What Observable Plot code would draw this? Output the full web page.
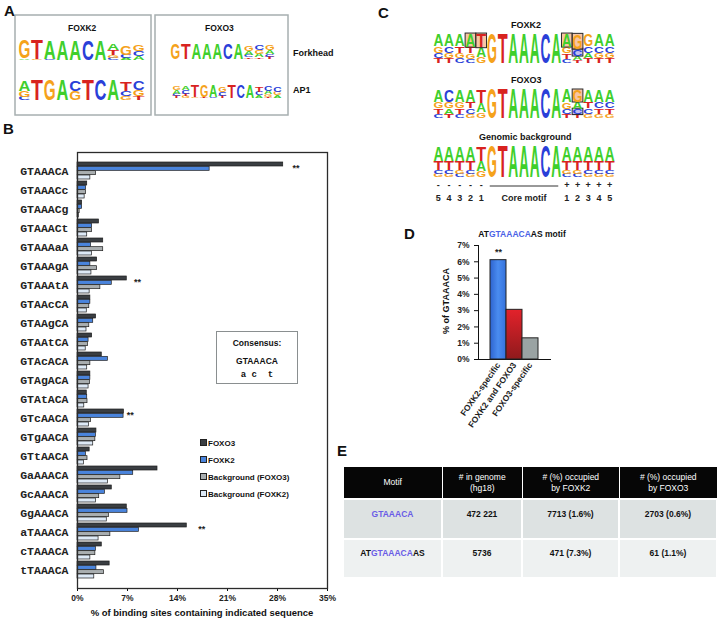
<!DOCTYPE html>
<html><head><meta charset="utf-8">
<script src="https://cdn.jsdelivr.net/npm/d3@7"></script>
<script src="https://cdn.jsdelivr.net/npm/@observablehq/plot@0.6"></script>
<style>
body{margin:0;background:#fff;}
#root{position:relative;width:720px;height:620px;overflow:hidden;font-family:"Liberation Sans",Arial,sans-serif;color:#111;background:#fff;}
.abs{position:absolute;line-height:1;white-space:nowrap;}
.pl{position:absolute;font:bold 15px "Liberation Sans",Arial,sans-serif;line-height:1;}
#plotB g[aria-label^="y-axis"] text{font:bold 11.5px "Liberation Mono","Courier New",monospace;fill:#222;}
#plotB g[aria-label^="x-axis"] text{font:bold 8.5px "Liberation Sans",Arial,sans-serif;fill:#222;}
#plotD g[aria-label^="y-axis"] text{font:bold 8.5px "Liberation Sans",Arial,sans-serif;fill:#222;}
#plotD g[aria-label^="x-axis"] text{font:bold 8.5px "Liberation Sans",Arial,sans-serif;fill:#222;}
.cell{position:absolute;display:flex;justify-content:center;text-align:center;font-size:8.5px;line-height:1.2;}
</style></head>
<body><div id="root"></div>
<script>
// ---------- Panel B data ----------
const motifs = ["GTAAACA","GTAAACc","GTAAACg","GTAAACt","GTAAAaA","GTAAAgA","GTAAAtA","GTAAcCA","GTAAgCA","GTAAtCA","GTAcACA","GTAgACA","GTAtACA","GTcAACA","GTgAACA","GTtAACA","GaAAACA","GcAAACA","GgAAACA","aTAAACA","cTAAACA","tTAAACA"];
const foxo3   = [28.8,1.36,0.65,3.0,3.6,2.75,6.9,1.8,2.6,2.05,3.4,1.8,1.3,6.5,2.65,1.7,11.2,4.8,6.9,15.3,3.4,4.5];
const foxk2   = [18.5,1.2,0.65,2.05,1.9,1.8,4.8,1.8,2.2,1.55,4.25,1.8,1.36,6.45,2.57,1.17,7.8,3.83,7.0,8.6,2.57,2.65];
const bgFoxo3 = [2.6,1.2,0.3,2.05,3.6,2.75,3.2,1.65,1.65,1.45,1.8,1.75,1.4,1.9,2.5,1.4,6.0,3.04,4.4,4.6,2.5,3.7];
const bgFoxk2 = [1.8,1.0,0.2,1.36,2.05,1.95,1.7,1.3,1.26,1.15,1.36,1.55,0.95,1.6,2.2,0.93,4.25,2.6,4.1,2.95,1.8,2.35];
const seriesNames = ["FOXO3","FOXK2","Background (FOXO3)","Background (FOXK2)"];
const seriesColors = ["#3a3e42","#4a84dc","#a9aeb0","#dde9f6"];
const xTicksB = [0,7,14,21,28,35];
const starMotifs = ["GTAAACA","GTAAAtA","GTcAACA","aTAAACA"];
const starPos = [30.1,7.9,6.9,16.9];

// ---------- Panel D data ----------
const dCats = ["FOXK2-specific","FOXK2 and FOXO3","FOXO3-specific"];
const dVals = [6.1,3.05,1.3];
const dFills = ["url(#gBlue)","url(#gRed)","#9aa3a3"];
const dTicks = [0,1,2,3,4,5,6,7];

// ---------- Panel E data ----------
const tHeader = ["Motif","# in genome<br>(hg18)","# (%) occupied<br>by FOXK2","# (%) occupied<br>by FOXO3"];
const tMotif = ['<span style="color:#6a5ce6">GTAAACA</span>','AT<span style="color:#6a5ce6">GTAAACA</span>AS'];
const tGenome = ["472 221","5736"];
const tFoxk2 = ["7713 (1.6%)","471 (7.3%)"];
const tFoxo3 = ["2703 (0.6%)","61 (1.1%)"];

// ---------- Logo data (columns top→bottom, letter + % height, * = boxed) ----------
const logoA_k2_fh = ["G88A8","T92G5","A88C6","A95","A95","C95","A95","A32T24G14C10","G42C16A10","G30C26A18"];
const logoA_k2_ap = ["A48G26C14","T95","G95","A95","C45G38","T95","C95","A95","T40C24G16","C40G26T16"];
const logoA_o3_fh = ["G92","T95","A95","A95","A95","C95","A95","G34A24C16T10","C30G24A20T10","G30A24C18T12"];
const logoA_o3_ap = ["G24A20C16T12","A24C20T16G12","T78G8","G78T8","A78C8","G32C24T14","T85","C85","A85","T32C24A16","C32A22G16T8","C32G22A16"];
const logoC_k2 = ["A40G22C18T15","A40C22G18T15","A40T22G18C15","*A42T22G18C13","*T44A32G19","G100","T100","A100","A100","A100","C100","A100","*A42G22T18C13","*G48*C22A14T10","G40C22A18T15","A40C22G18T15","A40C22G18T15"];
const logoC_o3 = ["A40G22T18C15","C40G22A18T15","A40G22T18C15","A40T22C18G15","T44A32G19","G100","T100","A100","A100","A100","C100","A100","A42G22C18T13","*G40A24*C18T13","A40T22C18G15","A40C22T18G15","A40C22T18G15"];
const logoC_bg = ["A44T28C13G10","A44T28C13G10","A44T28G13C10","A44T28C13G10","T44A32G19","G100","T100","A100","A100","A100","C100","A100","A44T28G13C10","A44T28G13C10","A44T28C13G10","A44T28C13G10","A44T28C13G10"];
const posSigns = ["-","-","-","-","-","","","","","","","","+","+","+","+","+"];
const posNums  = ["5","4","3","2","1","","","","","","","","1","2","3","4","5"];
const letterColors = {A:"#3fcf2c", C:"#2a3fd8", G:"#f5a21b", T:"#d8231f"};

const root = document.getElementById("root");
function addDiv(html, left, top, style){ const d=document.createElement("div"); d.className="abs"; d.style.left=left+"px"; d.style.top=top+"px"; if(style) d.style.cssText+=style; d.innerHTML=html; root.appendChild(d); return d; }
function addLabel(t,left,top){ const d=document.createElement("div"); d.className="pl"; d.style.left=left+"px"; d.style.top=top+"px"; d.textContent=t; root.appendChild(d); }

// ---------- Overlay SVG for logos ----------
const ov = d3.select(root).append("svg").attr("width",720).attr("height",620).style("position","absolute").style("left","0").style("top","0");
ov.append("rect").attr("x",15).attr("y",15).attr("width",136).attr("height",100).attr("fill","none").attr("stroke","#a7afb0").attr("stroke-width",1.5);
ov.append("rect").attr("x",155).attr("y",15).attr("width",133).attr("height",100).attr("fill","none").attr("stroke","#a7afb0").attr("stroke-width",1.5);

function parseCol(s){ const out=[]; s.replace(/(\*?)([ACGT])(\d+)/g,(m,b,L,n)=>{out.push({L,f:+n/100,box:!!b});}); return out; }
function drawLogo(x0,y0,w,h,cols,boxFill){
  const cw=w/cols.length;
  const g=ov.append("g");
  cols.forEach((s,i)=>{
    const col=parseCol(s);
    let y=y0+h;
    for(const c of col.slice().reverse()){
      const lh=c.f*h;
      if(c.box){
        g.append("rect").attr("x",x0+i*cw).attr("y",y-lh-0.5).attr("width",cw).attr("height",lh+1)
          .attr("fill", c.L==="C" ? "rgba(120,110,220,0.45)" : boxFill).attr("stroke","#2a2a2a").attr("stroke-width",1);
      }
      g.append("text").attr("x",x0+i*cw+0.4).attr("y",y).attr("font-size",lh/0.72)
        .attr("font-family","Liberation Sans, Arial, sans-serif").attr("font-weight","bold")
        .attr("textLength",Math.max(cw-0.8,0.5)).attr("lengthAdjust","spacingAndGlyphs")
        .attr("fill",letterColors[c.L]).text(c.L);
      y-=lh;
    }
  });
}
const boxFill="rgba(240,150,90,0.55)";
drawLogo(18,39,127,21,logoA_k2_fh,boxFill);
drawLogo(18,77,127,23,logoA_k2_ap,boxFill);
drawLogo(170,42,105,17,logoA_o3_fh,boxFill);
drawLogo(172,82,110,16,logoA_o3_ap,boxFill);
drawLogo(433,32,182,31,logoC_k2,boxFill);
drawLogo(433,88,182,30,logoC_o3,boxFill);
drawLogo(433,145,182,32,logoC_bg,boxFill);
// position labels under logos
const cwC=182/17;
posSigns.forEach((s,i)=>{ if(s) ov.append("text").attr("x",433+(i+0.5)*cwC).attr("y",188).attr("text-anchor","middle").attr("font-size",9).attr("font-weight","bold").attr("font-family","Liberation Sans, Arial").attr("fill","#222").text(s); });
posNums.forEach((s,i)=>{ if(s) ov.append("text").attr("x",433+(i+0.5)*cwC).attr("y",201).attr("text-anchor","middle").attr("font-size",9).attr("font-weight","bold").attr("font-family","Liberation Sans, Arial").attr("fill","#222").text(s); });
ov.append("line").attr("x1",433+5.3*cwC).attr("x2",433+11.7*cwC).attr("y1",186).attr("y2",186).attr("stroke","#333").attr("stroke-width",1);
ov.append("text").attr("x",433+8.5*cwC).attr("y",201).attr("text-anchor","middle").attr("font-size",9).attr("font-weight","bold").attr("font-family","Liberation Sans, Arial").attr("fill","#222").text("Core motif");

// ---------- Panel labels & texts ----------
addLabel("A",4,3); addLabel("B",3,121); addLabel("C",378,5); addLabel("D",404,226); addLabel("E",337,443);
addDiv("FOXK2",68,23,"font:bold 8.5px 'Liberation Sans',Arial;");
addDiv("FOXO3",205,23,"font:bold 8.5px 'Liberation Sans',Arial;");
addDiv("Forkhead",293,48,"font:bold 9px 'Liberation Sans',Arial;");
addDiv("AP1",293,85,"font:bold 9px 'Liberation Sans',Arial;");
addDiv("FOXK2",511,20,"font:bold 9px 'Liberation Sans',Arial;");
addDiv("FOXO3",511,75,"font:bold 9px 'Liberation Sans',Arial;");
addDiv("Genomic background",479,132,"font:bold 9px 'Liberation Sans',Arial;");

// ---------- Panel B (Plot) ----------
const rows = motifs.flatMap((m,i)=>[foxo3,foxk2,bgFoxo3,bgFoxk2].map((arr,j)=>({motif:m, series:seriesNames[j], j, v:arr[i]})));
const HB=480, mTB=12, mBB=32, pad=0.12;
const stepB=(HB-mTB-mBB)/(motifs.length - pad + 2*pad);
const bwB=stepB*(1-pad), bhB=bwB/4;
const plotB = Plot.plot({
  width:340, height:HB, marginTop:mTB, marginBottom:mBB, marginLeft:77, marginRight:13,
  style:{background:"transparent", fontFamily:"Liberation Sans, Arial, sans-serif", overflow:"visible"},
  x:{domain:[0,35], ticks:xTicksB, tickFormat:d=>d+"%", tickSize:3, tickPadding:3, label:null},
  y:{domain:motifs, padding:pad, tickSize:0, tickPadding:9, label:null},
  marks:[
    ...seriesNames.map((s,j)=>Plot.barX(rows.filter(r=>r.j===j),{x:"v", y:"motif", fill:seriesColors[j], stroke:"#1e1e1e", strokeWidth:0.7, insetTop:j*bhB, insetBottom:(3-j)*bhB})),
    Plot.frame({stroke:"#2b2b2b", strokeWidth:1.3}),
    Plot.text(starMotifs.map((m,i)=>({m, x:starPos[i]})),{x:"x", y:"motif" in {} ? "m" : "m", text:()=>"**", textAnchor:"start", dy:-3, fontSize:9, fontWeight:"bold", fill:"#222"})
  ]
});
const divB=document.createElement("div"); divB.id="plotB"; divB.style.cssText="position:absolute;left:0;top:140px;"; divB.appendChild(plotB); root.appendChild(divB);
addDiv("% of binding sites containing indicated sequence",0,607,"width:404px;text-align:center;font:bold 9.5px 'Liberation Sans',Arial;");
// legend
seriesNames.forEach((s,j)=>{
  addDiv('<span style="display:inline-block;width:5px;height:5px;border:1px solid #222;background:'+seriesColors[j]+';margin-right:1px;vertical-align:0px"></span>'+s, 200, 439+j*17, "font:bold 8px 'Liberation Sans',Arial;");
});
// consensus box
addDiv('<div style="font:bold 8.5px \'Liberation Sans\',Arial;margin-top:6px">Consensus:</div><div style="font:bold 8.5px \'Liberation Sans\',Arial;margin-top:8px">GTAAACA</div><div style="font:bold 9px \'Liberation Mono\',monospace;margin-top:4px;letter-spacing:0px">a&nbsp;c&nbsp;&nbsp;t</div>',216,331,"width:82px;height:53px;border:1px solid #8a8f90;text-align:center;box-sizing:border-box;");

// ---------- Panel D (Plot) ----------
const plotD = Plot.plot({
  width:150, height:220, marginTop:20, marginBottom:86, marginLeft:58, marginRight:20,
  style:{background:"transparent", fontFamily:"Liberation Sans, Arial, sans-serif", overflow:"visible"},
  x:{domain:dCats, paddingInner:0, paddingOuter:0.75, tickRotate:-55, tickSize:0, tickPadding:4, label:null, line:true},
  y:{domain:[0,7], ticks:dTicks, tickFormat:d=>d+"%", tickSize:4, label:null, line:true},
  marks:[
    ...dCats.map((c,i)=>Plot.barY([{c, v:dVals[i]}],{x:"c", y:"v", fill:dFills[i], stroke:"#222", strokeWidth:1})),
    Plot.text([{c:dCats[0], v:dVals[0]}],{x:"c", y:"v", text:()=>"**", dy:-8, fontSize:9, fontWeight:"bold", fill:"#222"})
  ]
});
const defs=d3.select(plotD).insert("defs",":first-child");
const gb=defs.append("linearGradient").attr("id","gBlue").attr("x1",0).attr("x2",1).attr("y1",0).attr("y2",0);
gb.append("stop").attr("offset","0%").attr("stop-color","#2d63cf");
gb.append("stop").attr("offset","50%").attr("stop-color","#4a8cf0");
gb.append("stop").attr("offset","100%").attr("stop-color","#3572dc");
const gr=defs.append("linearGradient").attr("id","gRed").attr("x1",0).attr("x2",0).attr("y1",0).attr("y2",1);
gr.append("stop").attr("offset","0%").attr("stop-color","#e3222b");
gr.append("stop").attr("offset","100%").attr("stop-color","#8f1a1c");
const divD=document.createElement("div"); divD.id="plotD"; divD.style.cssText="position:absolute;left:420px;top:225px;"; divD.appendChild(plotD); root.appendChild(divD);
addDiv('AT<span style="color:#4a62e6">GTAAACA</span>AS motif',472,229,"width:100px;text-align:center;font:bold 8.5px 'Liberation Sans',Arial;");
addDiv("% of GTAAACA",396,296,"width:100px;text-align:center;transform:rotate(-90deg);font:bold 9px 'Liberation Sans',Arial;");

// ---------- Panel E (table) ----------
const colX=[344,443,523,620,718];
const rowTop=[467,500,540], rowH=[31,38,37];
tHeader.forEach((h,c)=>{
  addDiv(h, colX[c], rowTop[0], "width:"+(colX[c+1]-colX[c]-1.5)+"px;height:"+rowH[0]+"px;background:#060606;color:#fff;font-size:8.5px;text-align:center;display:flex;align-items:center;justify-content:center;line-height:1.2;");
});
const tCols=[tMotif,tGenome,tFoxk2,tFoxo3];
[0,1].forEach(r=>{
  tCols.forEach((col,c)=>{
    addDiv(col[r], colX[c], rowTop[r+1], "width:"+(colX[c+1]-colX[c]-2)+"px;height:"+rowH[r+1]+"px;background:"+(r===0?"#dde2e2":"#eef1f1")+";color:#111;font:bold 8.5px 'Liberation Sans',Arial;text-align:center;padding-top:"+(r===0?9:8)+"px;box-sizing:border-box;");
  });
});
</script></body></html>
